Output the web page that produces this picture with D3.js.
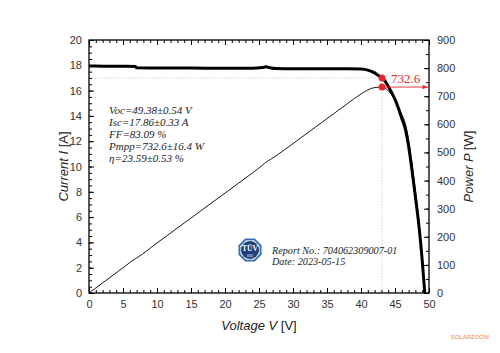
<!DOCTYPE html>
<html><head><meta charset="utf-8">
<script src="https://cdn.jsdelivr.net/npm/d3@7"></script>
<style>body{margin:0;background:#fff}svg{display:block}</style>
</head><body>
<script>
const voltage = [0,2,5,6.8,7,10,15,20,24,25.5,26,26.5,27.5,30,35,38,40,41,42,42.5,43.1,43.5,44,44.5,45,45.5,46,46.5,47,47.5,48,48.5,49,49.38];
const current = [17.94,17.93,17.92,17.91,17.80,17.79,17.78,17.77,17.77,17.82,17.88,17.82,17.74,17.72,17.72,17.73,17.70,17.62,17.40,17.22,17.0,16.78,16.35,15.85,15.3,14.6,13.8,13.0,11.6,9.7,7.6,5.4,2.6,0];
const power = [0,35.9,89.6,121.8,124.6,177.9,266.7,355.4,426.5,454.4,464.9,472.2,487.9,531.6,620.2,673.7,708.0,722.4,730.8,731.9,732.6,729.9,719.4,705.3,688.5,664.3,634.8,604.5,545.2,460.8,364.8,261.9,127.4,0];
const mpp = {v:43.1, i:17.0, p:732.6, label:"732.6"};
const params = ["Voc=49.38±0.54 V","Isc=17.86±0.33 A","FF=83.09 %","Pmpp=732.6±16.4 W","η=23.59±0.53 %"];
const report = ["Report No.: 704062309007-01","Date: 2023-05-15"];
const xTicks = [0,5,10,15,20,25,30,35,40,45,50];
const yTicks = [0,2,4,6,8,10,12,14,16,18,20];
const pTicks = [0,100,200,300,400,500,600,700,800,900];

const W=500,H=353;
const L=89,R=429,T=40,B=293;
const svg=d3.select("body").append("svg").attr("width",W).attr("height",H);
const x=d3.scaleLinear().domain([0,50]).range([L,R]);
const y=d3.scaleLinear().domain([0,20]).range([B,T]);
const yp=d3.scaleLinear().domain([0,900]).range([B,T]);
const font="'Liberation Sans',Arial,sans-serif";
const serif="'Liberation Serif','Times New Roman',serif";

// guide dotted lines
svg.append("line").attr("x1",x(0)).attr("x2",x(mpp.v)).attr("y1",y(mpp.i)).attr("y2",y(mpp.i))
  .attr("stroke","#c8c8c8").attr("stroke-width",0.8).attr("stroke-dasharray","1.5,1.5");
svg.append("line").attr("x1",x(mpp.v)).attr("x2",x(mpp.v)).attr("y1",y(mpp.i)).attr("y2",B)
  .attr("stroke","#c8c8c8").attr("stroke-width",0.8).attr("stroke-dasharray","1.5,1.5");

// axes
function styleAxis(g){g.select(".domain").remove();g.selectAll("line").attr("stroke","#000").attr("stroke-width",1);
  g.selectAll("text").attr("font-family",font).attr("font-size",11).attr("fill","#333");}
const minorX=d3.range(0,51,1), minorY=d3.range(0,20.01,0.5), minorP=d3.range(0,901,50);
svg.append("g").attr("transform",`translate(0,${B})`).call(d3.axisBottom(x).tickValues(minorX).tickFormat("").tickSize(-3)).call(styleAxis);
svg.append("g").attr("transform",`translate(0,${B})`).call(d3.axisBottom(x).tickValues(xTicks).tickSize(-5).tickPadding(7)).call(styleAxis);
svg.append("g").attr("transform",`translate(0,${T})`).call(d3.axisTop(x).tickValues(minorX).tickFormat("").tickSize(-3)).call(styleAxis);
svg.append("g").attr("transform",`translate(0,${T})`).call(d3.axisTop(x).tickValues(xTicks).tickFormat("").tickSize(-5)).call(styleAxis);
svg.append("g").attr("transform",`translate(${L},0)`).call(d3.axisLeft(y).tickValues(minorY).tickFormat("").tickSize(-3)).call(styleAxis);
svg.append("g").attr("transform",`translate(${L},0)`).call(d3.axisLeft(y).tickValues(yTicks).tickSize(-5).tickPadding(7)).call(styleAxis);
svg.append("g").attr("transform",`translate(${R},0)`).call(d3.axisRight(yp).tickValues(minorP).tickFormat("").tickSize(-3)).call(styleAxis);
svg.append("g").attr("transform",`translate(${R},0)`).call(d3.axisRight(yp).tickValues(pTicks).tickSize(-5).tickPadding(8)).call(styleAxis);
svg.append("rect").attr("x",L).attr("y",T).attr("width",R-L).attr("height",B-T).attr("fill","none").attr("stroke","#000").attr("stroke-width",1.3);

// curves
const pts=voltage.map((v,k)=>({v,i:current[k],p:power[k]}));
svg.append("path").datum(pts).attr("fill","none").attr("stroke","#000").attr("stroke-width",0.9)
  .attr("d",d3.line().x(d=>x(d.v)).y(d=>yp(d.p)).curve(d3.curveMonotoneX));
svg.append("path").datum(pts).attr("fill","none").attr("stroke","#000").attr("stroke-width",3)
  .attr("d",d3.line().x(d=>x(d.v)).y(d=>y(d.i)).curve(d3.curveMonotoneX));

// MPP markers
const red="#e8262b";
svg.append("defs").append("marker").attr("id","arr").attr("viewBox","0 0 10 10").attr("refX",10).attr("refY",5)
  .attr("markerWidth",7).attr("markerHeight",6).attr("orient","auto")
  .append("path").attr("d","M0,1L10,5L0,9Z").attr("fill",red);
svg.append("line").attr("x1",x(mpp.v)).attr("x2",R-1).attr("y1",yp(mpp.p)).attr("y2",yp(mpp.p))
  .attr("stroke",red).attr("stroke-width",0.9).attr("marker-end","url(#arr)");
svg.append("circle").attr("cx",x(mpp.v)).attr("cy",y(mpp.i)).attr("r",3.5).attr("fill",red);
svg.append("circle").attr("cx",x(mpp.v)).attr("cy",yp(mpp.p)).attr("r",3.5).attr("fill",red);
svg.append("text").attr("x",x(mpp.v)+9).attr("y",y(mpp.i)+5).attr("font-family",serif).attr("font-size",13)
  .attr("fill",red).text(mpp.label);

// parameter text
svg.append("g").selectAll("text").data(params).join("text")
  .attr("x",109).attr("y",(d,k)=>114+k*11.9).attr("font-family",serif).attr("font-style","italic")
  .attr("font-size",11).attr("fill","#222").text(d=>d);

// TUV logo
const lg=svg.append("g").attr("transform","translate(250,250)");
const oct=d3.range(8).map(k=>{const a=Math.PI/8+k*Math.PI/4;return [12.5*Math.cos(a),12.5*Math.sin(a)];});
lg.append("polygon").attr("points",oct.map(p=>p.join(",")).join(" ")).attr("fill","#3a6fb0");
const oct2=d3.range(8).map(k=>{const a=Math.PI/8+k*Math.PI/4;return [10.5*Math.cos(a),10.5*Math.sin(a)];});
lg.append("polygon").attr("points",oct2.map(p=>p.join(",")).join(" ")).attr("fill","#dfe8f3");
lg.append("circle").attr("r",9).attr("fill","#1f3d78");
lg.append("text").attr("y",1).attr("text-anchor","middle").attr("font-family",serif).attr("font-weight","bold")
  .attr("font-size",7.5).attr("fill","#fff").text("TÜV");
lg.append("text").attr("y",6.5).attr("text-anchor","middle").attr("font-family",font)
  .attr("font-size",3).attr("fill","#fff").text("SÜD");

svg.append("g").selectAll("text").data(report).join("text")
  .attr("x",272).attr("y",(d,k)=>254+k*11).attr("font-family",serif).attr("font-style","italic")
  .attr("font-size",10.2).attr("fill","#222").text(d=>d);

// axis titles
const xt=svg.append("text").attr("x",(L+R)/2).attr("y",330).attr("text-anchor","middle")
  .attr("font-family",font).attr("font-size",13).attr("fill","#222");
xt.append("tspan").attr("font-style","italic").text("Voltage V ");
xt.append("tspan").text("[V]");
const yt=svg.append("text").attr("transform",`translate(68,${(T+B)/2}) rotate(-90)`).attr("text-anchor","middle")
  .attr("font-family",font).attr("font-size",13).attr("fill","#222");
yt.append("tspan").attr("font-style","italic").text("Current I ");
yt.append("tspan").text("[A]");
const pt=svg.append("text").attr("transform",`translate(473,${(T+B)/2}) rotate(-90)`).attr("text-anchor","middle")
  .attr("font-family",font).attr("font-size",13).attr("fill","#222");
pt.append("tspan").attr("font-style","italic").text("Power P ");
pt.append("tspan").text("[W]");

svg.append("text").attr("x",489).attr("y",339).attr("text-anchor","end").attr("font-family",font).attr("font-size",6)
  .attr("fill","#f0843c").text("SOLARZOOM");
</script>
</body></html>
